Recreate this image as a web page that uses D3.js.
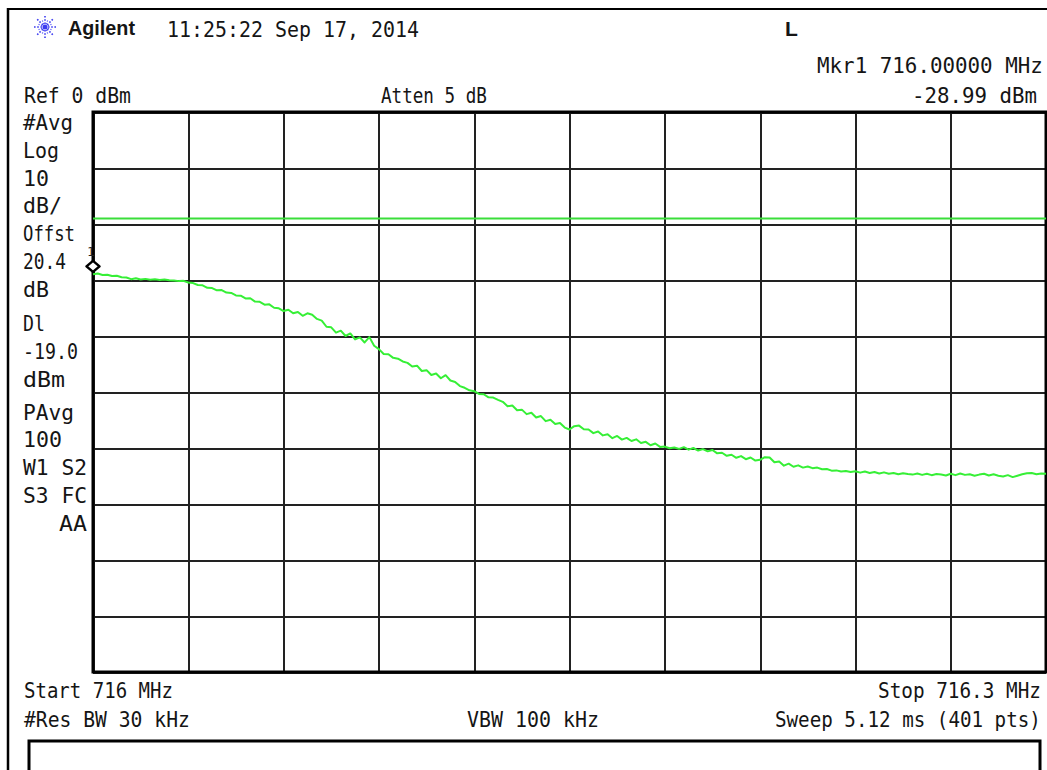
<!DOCTYPE html>
<html>
<head>
<meta charset="utf-8">
<script src="https://cdn.jsdelivr.net/npm/d3@7"></script>
<style>
  html, body { margin: 0; padding: 0; background: #ffffff; }
  svg { display: block; }
  text { fill: #151515; }
</style>
</head>
<body>
<script>
// ---------------- data ----------------
const startFreqMHz = 716.0;
const stopFreqMHz = 716.3;
const freqGridMHz = [716.00, 716.03, 716.06, 716.09, 716.12, 716.15, 716.18, 716.21, 716.24, 716.27, 716.30];
const levelGridDbm = [0, -10, -20, -30, -40, -50, -60, -70, -80, -90, -100];
const displayLineDbm = -19.0;
const markerFreqMHz = 716.0;
const markerDbm = -28.99;
// trace amplitudes (dBm), evenly spaced across the sweep
const traceDbm = [
 -28.99,-28.85,-29.10,-29.05,-29.30,-29.25,-29.50,-29.55,-29.85,-29.70,
 -29.90,-29.80,-29.95,-29.85,-30.00,-29.90,-30.05,-30.10,-30.20,-30.15,
 -30.45,-30.55,-30.90,-30.95,-31.40,-31.45,-31.85,-31.80,-32.25,-32.30,
 -32.75,-32.80,-33.30,-33.25,-33.85,-33.90,-34.40,-34.35,-34.95,-35.05,
 -35.55,-35.30,-35.95,-35.70,-36.40,-35.95,-36.20,-36.95,-37.25,-38.35,
 -38.45,-39.40,-39.05,-40.00,-39.55,-40.60,-40.25,-41.15,-40.20,-41.75,
 -42.35,-43.20,-43.25,-43.90,-44.05,-44.55,-44.80,-45.45,-45.30,-46.25,
 -46.10,-46.95,-46.70,-47.55,-47.00,-47.95,-48.20,-48.95,-49.25,-49.70,
 -49.85,-50.35,-50.40,-50.95,-51.00,-51.40,-51.75,-52.55,-52.40,-53.25,
 -53.15,-53.95,-53.70,-54.55,-54.30,-55.20,-54.95,-55.70,-55.55,-56.35,
 -56.70,-56.10,-56.00,-56.65,-56.70,-57.35,-57.05,-57.75,-57.55,-58.25,
 -57.85,-58.50,-58.20,-58.75,-58.45,-59.10,-58.90,-59.50,-59.20,-59.80,
 -59.75,-60.05,-59.90,-60.15,-59.85,-60.30,-60.00,-60.45,-60.20,-60.60,
 -60.35,-60.95,-60.85,-61.40,-61.20,-61.75,-61.45,-62.00,-61.70,-62.25,
 -62.10,-61.65,-61.70,-62.55,-62.40,-63.15,-62.80,-63.35,-63.10,-63.50,
 -63.30,-63.60,-63.50,-63.80,-63.75,-64.05,-64.00,-64.20,-64.10,-64.30,
 -64.15,-64.40,-64.20,-64.45,-64.30,-64.55,-64.35,-64.60,-64.45,-64.70,
 -64.50,-64.65,-64.75,-64.55,-64.80,-64.60,-64.85,-64.65,-64.75,-64.90,
 -64.60,-64.85,-64.55,-64.80,-64.70,-64.95,-64.75,-64.60,-64.90,-64.70,
 -64.95,-65.10,-64.85,-65.20,-64.95,-64.70,-64.50,-64.45,-64.70,-64.55,
 -64.60
];
// annotation texts
const brandText = "Agilent";
const timestampText = "11:25:22  Sep 17, 2014";
const statusText = "L";
const markerFreqText = "Mkr1  716.00000 MHz";
const markerLevelText = "-28.99 dBm";
const refText = "Ref 0 dBm";
const attenText = "Atten 5 dB";
const sidebarLabels = ["#Avg","Log","10","dB/","Offst","20.4","dB","Dl","-19.0","dBm","PAvg","100","W1 S2","S3 FC","AA"];
const startText = "Start 716 MHz";
const stopText = "Stop 716.3 MHz";
const rbwText = "#Res BW 30 kHz";
const vbwText = "VBW 100 kHz";
const sweepText = "Sweep 5.12 ms (401 pts)";
const markerLabel = "1";

// ---------------- drawing ----------------
const W = 1047, H = 770;
const plot = { left: 93, right: 1046, top: 112, bottom: 672 };
const MONO = "'DejaVu Sans Mono', 'Liberation Mono', monospace";

const svg = d3.select("body").append("svg").attr("width", W).attr("height", H);

const x = d3.scaleLinear().domain([startFreqMHz, stopFreqMHz]).range([plot.left, plot.right]);
const y = d3.scaleLinear().domain([d3.min(levelGridDbm), d3.max(levelGridDbm)]).range([plot.bottom, plot.top]);

// outer frame
svg.append("line").attr("x1", 8).attr("y1", 9).attr("x2", W).attr("y2", 9)
  .attr("stroke", "#000").attr("stroke-width", 2);
svg.append("line").attr("x1", 8).attr("y1", 8).attr("x2", 8).attr("y2", H)
  .attr("stroke", "#000").attr("stroke-width", 2.5);

// grid via axes
const gx = svg.append("g").attr("transform", `translate(0,${plot.bottom})`)
  .call(d3.axisBottom(x).tickValues(freqGridMHz).tickSize(-(plot.bottom - plot.top)).tickFormat(""));
gx.select(".domain").remove();
gx.selectAll(".tick line").attr("stroke", "#222").attr("stroke-width", 2).attr("shape-rendering", "crispEdges");

const gy = svg.append("g").attr("transform", `translate(${plot.left},0)`)
  .call(d3.axisLeft(y).tickValues(levelGridDbm).tickSize(-(plot.right - plot.left)).tickFormat(""));
gy.select(".domain").remove();
gy.selectAll(".tick line").attr("stroke", "#222").attr("stroke-width", 2).attr("shape-rendering", "crispEdges");

// plot border
svg.append("rect").attr("x", plot.left).attr("y", plot.top)
  .attr("width", plot.right - plot.left).attr("height", plot.bottom - plot.top)
  .attr("fill", "none").attr("stroke", "#000").attr("stroke-width", 3);

// display line
svg.append("line")
  .attr("x1", x(startFreqMHz)).attr("x2", x(stopFreqMHz))
  .attr("y1", y(displayLineDbm)).attr("y2", y(displayLineDbm))
  .attr("stroke", "#3ade3a").attr("stroke-width", 2);

// trace
const n = traceDbm.length;
const line = d3.line()
  .x((d, i) => x(startFreqMHz + (stopFreqMHz - startFreqMHz) * i / (n - 1)))
  .y(d => y(d));
svg.append("path").datum(traceDbm).attr("d", line)
  .attr("fill", "none").attr("stroke", "#36ef36").attr("stroke-width", 2)
  .attr("stroke-linejoin", "round");

// marker
const mx = x(markerFreqMHz), my = y(markerDbm) - 8;
svg.append("path")
  .attr("d", `M${mx - 6.5},${my} L${mx},${my - 5.5} L${mx + 6.5},${my} L${mx},${my + 5.5} Z`)
  .attr("fill", "#fff").attr("stroke", "#000").attr("stroke-width", 2.5).attr("stroke-linejoin", "round");
svg.append("text").attr("x", mx - 2).attr("y", my - 10).attr("text-anchor", "middle")
  .attr("font-family", MONO).attr("font-size", 13).style("fill", "#222").text(markerLabel);

// helper for text: place at (xx, yy) and horizontally scale to the given width
function txt(str, xx, yy, size, anchor, width, opts) {
  const g = svg.append("g");
  const t = g.append("text").attr("x", 0).attr("y", 0)
    .attr("font-family", (opts && opts.family) || MONO)
    .attr("font-size", size).text(str);
  if (opts && opts.weight) t.attr("font-weight", opts.weight);
  const natural = t.node().getComputedTextLength();
  const w = width || natural;
  const sx = w / natural;
  let left = xx;
  if (anchor === "end") left = xx - w;
  else if (anchor === "middle") left = xx - w / 2;
  g.attr("transform", `translate(${left},${yy}) scale(${sx},1)`);
  return t;
}

// Agilent logo (spark)
const logo = svg.append("g").attr("transform", "translate(45,27)");
for (let k = 0; k < 8; k++) {
  const a = k * Math.PI / 4;
  logo.append("line").attr("x1", 3 * Math.cos(a)).attr("y1", 3 * Math.sin(a))
    .attr("x2", 11 * Math.cos(a)).attr("y2", 11 * Math.sin(a))
    .attr("stroke", "#3b3bf0").attr("stroke-width", 1.6).attr("stroke-dasharray", "1.6,1.6");
}
for (let k = 0; k < 8; k++) {
  const a = k * Math.PI / 4 + Math.PI / 8;
  logo.append("line").attr("x1", 3 * Math.cos(a)).attr("y1", 3 * Math.sin(a))
    .attr("x2", 7 * Math.cos(a)).attr("y2", 7 * Math.sin(a))
    .attr("stroke", "#5a5af5").attr("stroke-width", 1.2).attr("stroke-dasharray", "1.4,1.4");
}
logo.append("circle").attr("r", 2.5).attr("fill", "#3b3bf0");

// header
txt(brandText, 68, 35, 20, "start", 67, { family: "'Liberation Sans', Arial, sans-serif", weight: "bold" });
txt(timestampText, 167, 37, 22, "start", 252);
txt(statusText, 785, 36, 21, "start", null, { family: "'Liberation Sans', Arial, sans-serif", weight: "bold" });
txt(markerFreqText, 1043, 73, 22, "end", 226);
txt(markerLevelText, 1037, 103, 22, "end", 125);
txt(refText, 24, 103, 22, "start", 107);
txt(attenText, 381, 103, 22, "start", 106);

// sidebar
const sideBaselines = [130, 158, 186, 213, 241, 269, 297, 331, 359, 387, 420, 447, 475, 503, 531];
const sideWidths = [50, 36, 26, 39, 52, 43, 26, 22, 55, 42, 51, 39, 64, 64, 28];
sidebarLabels.forEach((s, i) => {
  const xx = s === "AA" ? 59 : 23;
  txt(s, xx, sideBaselines[i], 21, "start", sideWidths[i]);
});

// footer
txt(startText, 24, 698, 22, "start", 149);
txt(stopText, 1041, 698, 22, "end", 163);
txt(rbwText, 24, 727, 22, "start", 166);
txt(vbwText, 467, 727, 22, "start", 132);
txt(sweepText, 1041, 727, 22, "end", 266);

// bottom box
svg.append("rect").attr("x", 29).attr("y", 741).attr("width", 1011).attr("height", 60)
  .attr("fill", "none").attr("stroke", "#000").attr("stroke-width", 3);
</script>
</body>
</html>
